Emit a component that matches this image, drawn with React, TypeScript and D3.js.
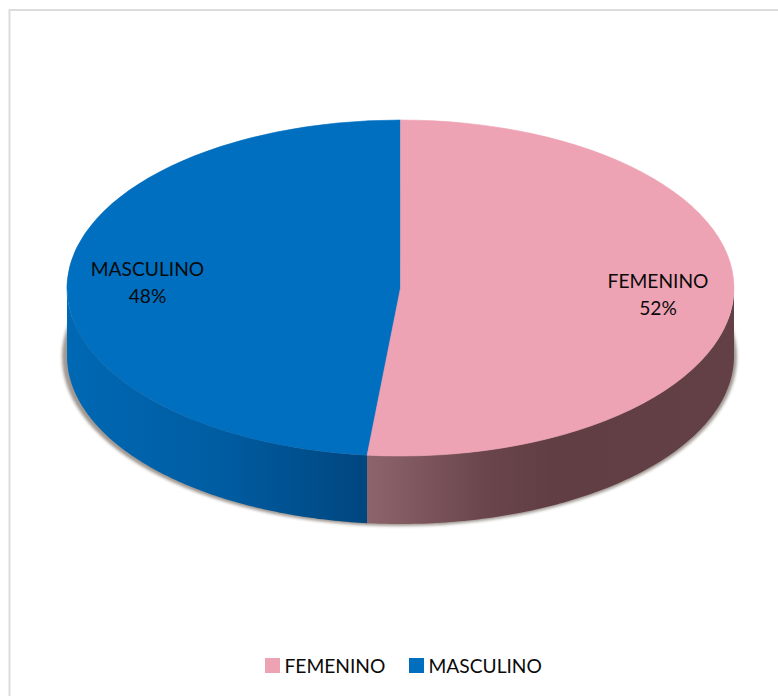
import React from "react";
import * as d3 from "d3";

const categories = ["FEMENINO", "MASCULINO"];
const shareValues = [51.6, 48.4];
const labelValues = [52, 48];
const topColors = ["#eea3b5", "#006fc0"];
const labelPositions = [
  { x: 658, y: 282 },
  { x: 147.5, y: 270 },
];

const W = 778;
const H = 696;
const cx = 400.5;
const cy = 288;
const rx = 333.5;
const ry = 168;
const depth = 68;

const pie = d3.pie<number>().sort(null).startAngle(0).endAngle(2 * Math.PI);
const slices = pie(shareValues);
const arcGen = d3.arc<d3.PieArcDatum<number>>().innerRadius(0).outerRadius(1);

const px = (a: number) => cx + rx * Math.sin(a);
const py = (a: number) => cy - ry * Math.cos(a);

// Visible side wall of a slice: the part of its rim below the ellipse centre.
function wall(start: number, end: number): string {
  const a0 = Math.max(start, Math.PI / 2);
  const a1 = Math.min(end, (3 * Math.PI) / 2);
  if (a1 <= a0) return "";
  const angles = d3.range(0, 121).map((i) => a0 + ((a1 - a0) * i) / 120);
  const line = d3.line<[number, number]>();
  const top = angles.map((a) => [px(a), py(a)] as [number, number]);
  const bottom = angles
    .slice()
    .reverse()
    .map((a) => [px(a), py(a) + depth] as [number, number]);
  return line([...top, ...bottom]) + "Z";
}

const boundaryX = px(slices[0].endAngle);

export default function App() {
  return (
    <svg
      width={W}
      height={H}
      viewBox={`0 0 ${W} ${H}`}
      style={{ position: "absolute", left: 0, top: 0, background: "#fff" }}
      fontFamily="Lato, 'Open Sans', sans-serif"
    >
      <defs>
        <filter id="shadow" x="-10%" y="-10%" width="120%" height="120%">
          <feGaussianBlur stdDeviation="1.6" />
        </filter>
        <linearGradient id="side0" gradientUnits="userSpaceOnUse" x1={boundaryX} x2={cx + rx} y1="0" y2="0">
          <stop offset="0" stopColor="#8e646c" />
          <stop offset="0.32" stopColor="#6a464c" />
          <stop offset="0.5" stopColor="#613e44" />
          <stop offset="1" stopColor="#624045" />
        </linearGradient>
        <linearGradient id="side1" gradientUnits="userSpaceOnUse" x1={cx - rx} x2={boundaryX} y1="0" y2="0">
          <stop offset="0" stopColor="#0068b4" />
          <stop offset="0.5" stopColor="#005da2" />
          <stop offset="1" stopColor="#00467f" />
        </linearGradient>
      </defs>

      <rect x={9.5} y={10} width={800} height={720} fill="none" stroke="#dcdcdc" strokeWidth={2} />

      <ellipse cx={cx - 1} cy={cy + depth + 1} rx={rx + 4} ry={ry + 1} fill="#6e6258" opacity={0.65} filter="url(#shadow)" />
      <rect x={cx - rx - 8} y={cy - 30} width={2 * rx + 16} height={30} fill="#fff" />

      {slices.map((s, i) => (
        <path key={`w${i}`} d={wall(s.startAngle, s.endAngle)} fill={`url(#side${i})`} />
      ))}
      {[1, 0].map((i) => (
        <path
          key={`t${i}`}
          d={arcGen(slices[i]) ?? ""}
          fill={topColors[i]}
          stroke={topColors[i]}
          strokeWidth={0.6}
          vectorEffect="non-scaling-stroke"
          transform={`translate(${cx},${cy}) scale(${rx},${ry})`}
        />
      ))}

      {categories.map((c, i) => (
        <text key={`l${i}`} textAnchor="middle" fontSize={19.2} fill="#0a0a0a" x={labelPositions[i].x} y={labelPositions[i].y + 6}>
          <tspan x={labelPositions[i].x}>{c}</tspan>
          <tspan x={labelPositions[i].x} dy={27}>{`${labelValues[i]}%`}</tspan>
        </text>
      ))}

      {categories.map((c, i) => {
        const x = [265, 409][i];
        return (
          <g key={`k${i}`}>
            <rect x={x} y={658} width={15} height={15} fill={topColors[i]} />
            <text x={x + 19.5} y={672.5} fontSize={19.2} fill="#0a0a0a">{c}</text>
          </g>
        );
      })}
    </svg>
  );
}
